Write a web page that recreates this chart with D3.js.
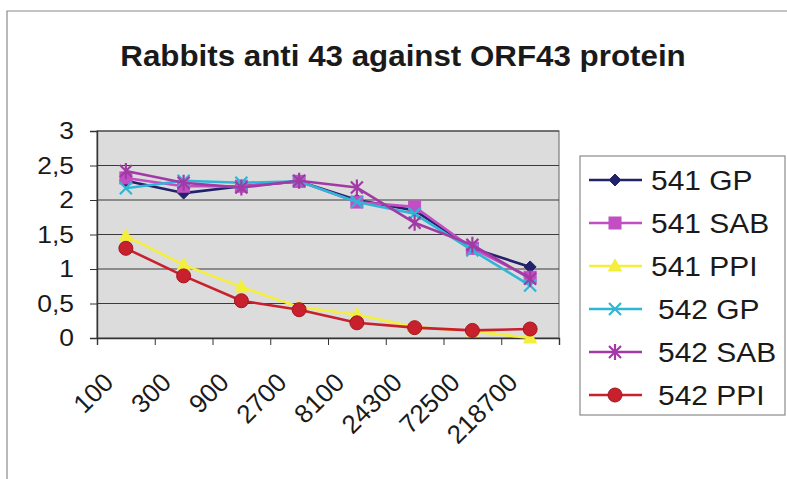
<!DOCTYPE html>
<html>
<head>
<meta charset="utf-8">
<script src="https://cdn.jsdelivr.net/npm/d3@7/dist/d3.min.js"></script>
<style>
  html, body { margin: 0; padding: 0; background: #fff; }
  svg { display: block; font-family: "Liberation Sans", Arial, sans-serif; }
</style>
</head>
<body>
<svg id="chart" width="787" height="479"></svg>
<script>
// Dilution series (x categories)
const categories = ["100", "300", "900", "2700", "8100", "24300", "72500", "218700"];

// Absorbance readings per serum
const gp541  = [2.28, 2.10, 2.20, 2.27, 2.00, 1.85, 1.30, 1.03];
const sab541 = [2.32, 2.20, 2.20, 2.27, 1.97, 1.90, 1.30, 0.88];
const ppi541 = [1.48, 1.06, 0.74, 0.45, 0.34, 0.16, 0.10, 0.00];
const gp542  = [2.17, 2.28, 2.25, 2.27, 1.97, 1.80, 1.27, 0.76];
const sab542 = [2.42, 2.25, 2.18, 2.28, 2.18, 1.67, 1.35, 0.86];
const ppi542 = [1.30, 0.90, 0.54, 0.41, 0.22, 0.15, 0.11, 0.13];

const seriesNames = ["541 GP", "541 SAB", "541 PPI", "542 GP", "542 SAB", "542 PPI"];
const yTicks = [0, 0.5, 1, 1.5, 2, 2.5, 3];

const series = [
  { name: seriesNames[0], values: gp541,  color: "#22226a", marker: "diamond" },
  { name: seriesNames[1], values: sab541, color: "#c24ec4", marker: "square" },
  { name: seriesNames[2], values: ppi541, color: "#f4ee3c", marker: "triangle" },
  { name: seriesNames[3], values: gp542,  color: "#2fb6d6", marker: "x" },
  { name: seriesNames[4], values: sab542, color: "#a23aa6", marker: "star" },
  { name: seriesNames[5], values: ppi542, color: "#c8202c", marker: "circle" }
];

const svg = d3.select("#chart");

// Outer chart frame (top and left edges)
svg.append("path")
  .attr("d", "M7,479 V11 H787")
  .attr("fill", "none")
  .attr("stroke", "#8a8a8a")
  .attr("stroke-width", 1.2);

// Title
svg.append("text")
  .attr("transform", "translate(403,66) scale(1.08,1)")
  .attr("text-anchor", "middle")
  .attr("font-weight", "bold")
  .attr("font-size", 29)
  .attr("fill", "#1a1a1a")
  .text("Rabbits anti 43 against ORF43 protein");

const plot = { left: 97, right: 559, top: 131, bottom: 338 };

const x = d3.scaleBand().domain(categories).range([plot.left, plot.right]);
const xEdge = d3.scaleLinear().domain([0, categories.length]).range([plot.left, plot.right]);
const y = d3.scaleLinear().domain([0, 3]).range([plot.bottom, plot.top]);

// Plot background
svg.append("rect")
  .attr("x", plot.left).attr("y", plot.top)
  .attr("width", plot.right - plot.left).attr("height", plot.bottom - plot.top)
  .attr("fill", "#dcdcdc")
  .attr("stroke", "#7a7a7a")
  .attr("stroke-width", 1.2);

// Horizontal gridlines
svg.append("g")
  .selectAll("line")
  .data(yTicks.filter(d => d > 0))
  .join("line")
  .attr("x1", plot.left).attr("x2", plot.right)
  .attr("y1", d => y(d)).attr("y2", d => y(d))
  .attr("stroke", "#3a3a3a")
  .attr("stroke-width", 1.1);

// Y axis
const yAxis = svg.append("g")
  .attr("transform", `translate(${plot.left},0)`)
  .call(d3.axisLeft(y).tickValues(yTicks).tickSize(7).tickPadding(4)
    .tickFormat(d => String(d).replace(".", ",")));
yAxis.select(".domain").attr("stroke", "#333").attr("stroke-width", 1.4);
yAxis.selectAll(".tick line").attr("stroke", "#333");
yAxis.selectAll(".tick text").remove();
svg.append("g")
  .selectAll("text")
  .data(yTicks)
  .join("text")
  .attr("transform", d => `translate(74,${y(d)}) scale(1.15,1)`)
  .attr("text-anchor", "end")
  .attr("dy", "0.36em")
  .attr("font-size", 23)
  .attr("fill", "#1a1a1a")
  .text(d => String(d).replace(".", ","));

// X axis: tick marks between categories
const xAxis = svg.append("g")
  .attr("transform", `translate(0,${plot.bottom})`)
  .call(d3.axisBottom(xEdge).ticks(categories.length).tickSize(7).tickFormat(""));
xAxis.select(".domain").attr("stroke", "#333").attr("stroke-width", 1.4);
xAxis.selectAll(".tick line").attr("stroke", "#333");

// Rotated category labels
svg.append("g")
  .selectAll("text")
  .data(categories)
  .join("text")
  .attr("transform", d => `translate(${x(d) + x.bandwidth() / 2 - 11},384) rotate(-45)`)
  .attr("text-anchor", "end")
  .attr("font-size", 26)
  .attr("fill", "#1a1a1a")
  .text(d => d);

// Marker drawing helper
function drawMarker(sel, type, color) {
  if (type === "diamond") {
    sel.append("path").attr("d", "M0,-6 L6,0 L0,6 L-6,0Z").attr("fill", color).attr("stroke", color);
  } else if (type === "square") {
    sel.append("rect").attr("x", -6).attr("y", -6).attr("width", 12).attr("height", 12)
      .attr("fill", color).attr("stroke", color);
  } else if (type === "triangle") {
    sel.append("path").attr("d", "M0,-7 L6.5,5 L-6.5,5Z").attr("fill", color).attr("stroke", color);
  } else if (type === "x") {
    sel.append("path").attr("d", "M-6,-6 L6,6 M-6,6 L6,-6").attr("stroke", color).attr("stroke-width", 2.2).attr("fill", "none");
  } else if (type === "star") {
    sel.append("path").attr("d", "M-6,-6 L6,6 M-6,6 L6,-6 M0,-8 L0,8").attr("stroke", color).attr("stroke-width", 2.2).attr("fill", "none");
  } else if (type === "circle") {
    sel.append("circle").attr("r", 7).attr("fill", color).attr("stroke", "#a01820").attr("stroke-width", 1);
  }
}

const line = d3.line()
  .x((d, i) => x(categories[i]) + x.bandwidth() / 2)
  .y(d => y(d));

series.forEach(s => {
  const g = svg.append("g");
  g.append("path")
    .attr("d", line(s.values))
    .attr("fill", "none")
    .attr("stroke", s.color)
    .attr("stroke-width", 2.6)
    .attr("stroke-linejoin", "round");
  g.selectAll("g.m")
    .data(s.values)
    .join("g")
    .attr("class", "m")
    .attr("transform", (d, i) => `translate(${x(categories[i]) + x.bandwidth() / 2},${y(d)})`)
    .each(function () { drawMarker(d3.select(this), s.marker, s.color); });
});

// Legend
const legend = svg.append("g");
legend.append("rect")
  .attr("x", 580).attr("y", 156).attr("width", 205).attr("height", 259)
  .attr("fill", "#fff").attr("stroke", "#8a8a8a").attr("stroke-width", 1.2);

const legendY = d3.scalePoint().domain(seriesNames).range([180, 395]);
series.forEach((s, i) => {
  const cy = legendY(s.name);
  const row = legend.append("g");
  row.append("line")
    .attr("x1", 589).attr("x2", 642).attr("y1", cy).attr("y2", cy)
    .attr("stroke", s.color).attr("stroke-width", 2.6);
  drawMarker(row.append("g").attr("transform", `translate(615,${cy})`), s.marker, s.color);
  row.append("text")
    .attr("transform", `translate(${i < 3 ? 651 : 658},${cy}) scale(1.07,1)`)
    .attr("dy", "0.36em")
    .attr("font-size", 28)
    .attr("fill", "#1a1a1a")
    .text(s.name);
});
</script>
</body>
</html>
